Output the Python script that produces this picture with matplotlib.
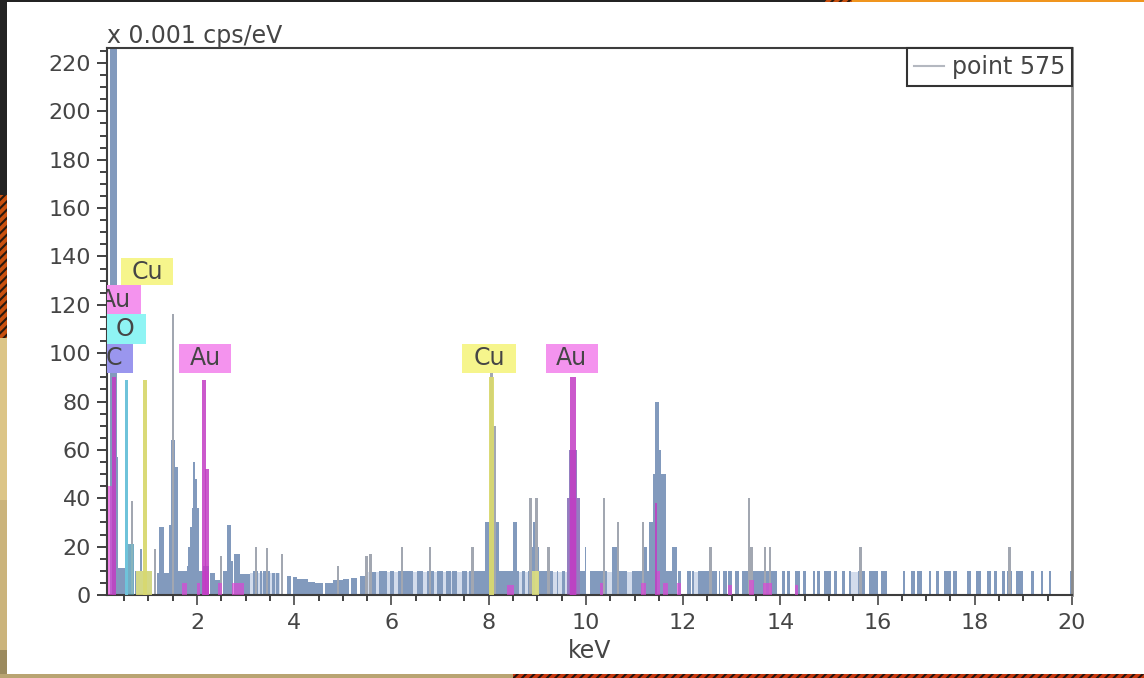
import matplotlib
matplotlib.use('Agg')
import matplotlib.pyplot as plt
from matplotlib.patches import Rectangle
from matplotlib.lines import Line2D
from matplotlib.ticker import MultipleLocator

#counts per keV band (start keV, end keV, value)
peak_start = [0.21, 0.333, 0.381, 0.552, 0.724, 0.827, 0.875, 1.17, 1.218, 1.43, 1.46, 1.54,
              1.616, 1.787, 1.82, 1.856, 1.89, 1.924, 1.958, 1.993, 2.05, 2.116, 2.267, 2.37,
              2.54, 2.61, 2.70, 2.77, 2.885,
              7.93, 8.13, 8.51, 8.87, 8.91, 9.61, 9.66, 9.98, 10.53, 11.17, 11.30, 11.39, 11.42, 11.42, 11.87]
peak_end = [0.354, 0.381, 0.518, 0.71, 0.827, 0.875, 1.067, 1.43, 1.32, 1.616, 1.54, 1.60,
            1.787, 1.82, 1.856, 1.89, 1.924, 1.958, 1.993, 2.05, 2.116, 2.25, 2.37, 2.47,
            2.75, 2.70, 2.75, 2.885, 3.09,
            8.02, 8.21, 8.59, 9.04, 8.98, 9.87, 9.81, 10.0, 10.67, 11.25, 11.39, 11.65, 11.54, 11.51, 11.77]
peak_count = [230, 57, 11, 21, 10, 19, 10, 9, 28, 29, 64, 53,
              10, 12, 20, 28, 36, 55, 48, 36, 10, 12, 9, 6,
              10, 29, 14, 17, 8.5,
              30, 30, 30, 20, 30, 40, 60, 20, 20, 20, 30, 50, 60, 80, 20]

#low continuum from 3 keV to 7.6 keV
cont_start = [3.146, 3.30, 3.35, 3.54, 3.63, 3.845, 3.97, 4.05, 4.29, 4.43, 4.64, 4.805, 5.01,
              5.16, 5.35, 5.56, 5.75, 5.96, 6.14, 6.53, 6.73, 6.945]
cont_end = [3.26, 3.33, 3.50, 3.60, 3.69, 3.93, 4.05, 4.29, 4.43, 4.59, 4.805, 5.01, 5.12,
            5.285, 5.49, 5.68, 5.90, 6.05, 6.45, 6.64, 6.88, 7.05]
cont_count = [10, 10, 10, 9, 9, 8, 7.5, 6.5, 5.5, 5, 5, 6, 6.5,
              7, 8, 9.5, 10, 10, 10, 10, 10, 10]

#faint channels between the solid bands
pale_start = [3.09, 5.49, 7.05, 8.62, 9.33, 10.43, 10.84, 12.23, 15.46]
pale_end = [3.70, 7.60, 7.60, 8.80, 9.61, 10.53, 10.94, 12.30, 15.59]
pale_count = [9, 9.5, 9.5, 9.5, 9.5, 9.5, 9.5, 9.5, 9.5]

#bands sitting at one count level (10)
flat_start = [7.12, 7.25, 7.45, 7.60, 8.68, 8.80, 9.23, 9.40, 9.50, 9.61, 10.09, 10.53, 10.94,
              11.39, 11.90, 12.08, 12.19, 12.30, 12.73, 12.83, 12.93, 13.07, 13.21,
              14.03, 14.13, 14.30, 14.46, 14.67, 14.75, 14.89, 15.11, 15.27, 15.41, 15.59, 15.83,
              16.08, 16.52, 16.69, 16.81, 17.05, 17.21, 17.36, 17.56, 17.85, 18.03, 18.26, 18.39,
              18.56, 18.66, 18.84, 19.15, 19.37, 19.52, 19.96]
flat_end = [7.22, 7.34, 7.55, 8.62, 8.75, 9.19, 9.33, 9.43, 9.57, 9.98, 10.43, 10.84, 11.29,
            11.87, 11.95, 12.16, 12.23, 12.69, 12.76, 12.90, 13.0, 13.14, 13.93,
            14.10, 14.19, 14.41, 14.52, 14.72, 14.82, 15.04, 15.17, 15.33, 15.46, 15.75, 16.0,
            16.19, 16.57, 16.77, 16.91, 17.10, 17.27, 17.51, 17.63, 17.92, 18.13, 18.33, 18.45,
            18.63, 18.76, 19.0, 19.22, 19.41, 19.57, 20.0]
flat_count = 10

#single thin channels
spike_kev = [1.135, 1.51, 0.665, 2.49, 3.21, 3.44, 3.75, 4.90, 5.49, 5.57, 6.22, 6.79,
             7.67, 8.06, 8.12, 8.86, 8.98, 9.23, 10.37, 10.66, 11.18, 12.56, 13.35, 13.41,
             13.68, 13.79, 15.65, 18.71]
spike_count = [19, 116, 39, 16, 20, 19.5, 17, 12, 16, 17, 20, 20,
               20, 92, 70, 40, 40, 20, 40, 30, 30, 20, 40, 20,
               20, 20, 20, 20]

#element lines over the spectrum
au_start = [0.244, 2.10, 2.165, 9.67, 11.42]
au_end = [0.333, 2.18, 2.25, 9.80, 11.47]
au_count = [90, 89, 52, 90, 38]
au_mid_start = [9.61, 9.66]
au_mid_end = [9.87, 9.81]
au_mid_count = [40, 60]
au_low_start = [0.175, 1.69, 1.99, 2.116, 2.44, 2.72, 8.37, 10.29, 11.13, 11.47, 11.58, 11.88,
                12.93, 13.35, 13.65, 14.30]
au_low_end = [0.244, 1.79, 2.06, 2.25, 2.51, 2.96, 8.52, 10.35, 11.24, 11.53, 11.68, 11.95,
              13.0, 13.45, 13.82, 14.37]
au_low_count = [45, 5, 5, 10, 5, 5, 4, 5, 5, 10, 5, 5, 4, 6, 5, 4]
o_start = [0.518]
o_end = [0.587]
o_count = [89]
o_low_start = [0.552]
o_low_end = [0.71]
o_low_count = [21]
cu_start = [0.895, 8.00]
cu_end = [0.964, 8.10]
cu_count = [89, 90]
cu_low_start = [0.744, 8.89]
cu_low_end = [1.067, 9.04]
cu_low_count = [10, 10]

#element tags: text, box left/right keV, box bottom/top value, text keV
tag_text = ['Cu', 'Au', 'O', 'C', 'Au', 'Cu', 'Au']
tag_left = [0.44, 0.148, 0.148, 0.148, 1.63, 7.46, 9.17]
tag_right = [1.51, 0.85, 0.95, 0.68, 2.70, 8.57, 10.24]
tag_low = [128, 116, 104, 92, 92, 92, 92]
tag_high = [139.5, 128, 116, 104, 104, 104, 104]
tag_x = [0.97, 0.32, 0.52, 0.29, 2.17, 8.02, 9.70]

x_ticks = [2, 4, 6, 8, 10, 12, 14, 16, 18, 20]
y_ticks = [0, 20, 40, 60, 80, 100, 120, 140, 160, 180, 200, 220]

BLUE = '#829abd'
TEXT = '#454545'
FONT = 16
FONT_BIG = 17

fig = plt.figure(figsize=(11.44, 6.78), dpi=100, facecolor='white')
plt.rcParams['font.family'] = 'DejaVu Sans'
plt.rcParams['hatch.linewidth'] = 1.5

#page around the screenshot
W, H = 1144.0, 678.0
def page_rect(x0, y0, x1, y1, color, hatch=None, edge=None):
    r = Rectangle((x0/W, 1 - y1/H), (x1 - x0)/W, (y1 - y0)/H, transform=fig.transFigure,
                  facecolor=color, edgecolor=edge if edge else color, hatch=hatch, lw=0)
    fig.add_artist(r)

page_rect(0, 0, 7, 195, '#232323')
page_rect(0, 195, 7, 338, '#c9500f', '////', '#2a1a10')
page_rect(0, 338, 7, 500, '#dcc587')
page_rect(0, 500, 7, 650, '#cbb47c')
page_rect(0, 650, 7, 678, '#9b8a5e')
page_rect(0, 0, 825, 2, '#232323')
page_rect(825, 0, 852, 2, '#c9500f', '////', '#2a1a10')
page_rect(852, 0, 1144, 2, '#f0951e')
page_rect(0, 674, 513, 678, '#b9a472')
page_rect(513, 674, 1144, 678, '#c8380f', '////', '#241510')

ax = fig.add_axes([107/W, 1 - 595/H, 965/W, 547/H])

def bands(start, end, count, color, alpha=1.0, z=2):
    if not hasattr(count, '__len__'):
        count = [count]*len(start)
    width = [e - s for s, e in zip(start, end)]
    ax.bar(start, count, width=width, align='edge', color=color, alpha=alpha, lw=0, zorder=z)

bands(pale_start, pale_end, pale_count, '#d3dcec', z=1)
bands(flat_start, flat_end, flat_count, BLUE)
bands(cont_start, cont_end, cont_count, BLUE)
bands(peak_start, peak_end, peak_count, BLUE)
ax.bar(spike_kev, spike_count, width=0.05, color='#a2a7b1', lw=0, zorder=2)

bands(au_mid_start, au_mid_end, au_mid_count, '#c040c8', 0.3, 3)
bands(au_low_start, au_low_end, au_low_count, '#e23fd8', 0.65, 3)
bands(au_start, au_end, au_count, '#c23cc4', 0.85, 3)
bands(o_low_start, o_low_end, o_low_count, '#60c8d0', 0.4, 3)
bands(o_start, o_end, o_count, '#6fc3da', 1.0, 3)
bands(cu_low_start, cu_low_end, cu_low_count, '#e8e878', 0.8, 3)
bands(cu_start, cu_end, cu_count, '#d8d870', 0.95, 3)

tag_color = {'Cu': '#f6f58c', 'Au': '#f493ee', 'O': '#8ff4f4', 'C': '#9a96ee'}
for i in range(len(tag_text)):
    ax.add_patch(Rectangle((tag_left[i], tag_low[i]), tag_right[i] - tag_left[i], tag_high[i] - tag_low[i],
                           facecolor=tag_color[tag_text[i]], edgecolor='none', zorder=4))
    ax.text(tag_x[i], (tag_low[i] + tag_high[i])/2, tag_text[i], ha='center', va='center',
            fontsize=FONT_BIG, color=TEXT, clip_on=True, zorder=5)

ax.set_xlim(0.148, 20)
ax.set_ylim(0, 226.2)
ax.set_xticks(x_ticks)
ax.set_yticks(y_ticks)
ax.xaxis.set_minor_locator(MultipleLocator(0.5))
ax.yaxis.set_minor_locator(MultipleLocator(5))
ax.tick_params(axis='y', which='major', length=7.5, width=1.3, color='#333333', labelsize=FONT, labelcolor=TEXT, pad=4)
ax.tick_params(axis='y', which='minor', length=5, width=1.3, color='#333333')
ax.tick_params(axis='x', which='major', length=7, width=1.3, color='#555555', labelsize=FONT, labelcolor=TEXT, pad=6)
ax.tick_params(axis='x', which='minor', length=4, width=1.3, color='#333333')
ax.set_xlabel('keV', fontsize=FONT_BIG, color=TEXT, labelpad=4)
ax.text(0, 0.9995, 'x 0.001 cps/eV', transform=ax.transAxes, ha='left', va='bottom', fontsize=FONT_BIG, color=TEXT)

for side in ['left', 'bottom', 'top']:
    ax.spines[side].set_color('#3d3d3d')
    ax.spines[side].set_linewidth(1.5)
ax.spines['right'].set_color('#8a8a8a')
ax.spines['right'].set_linewidth(2)

handle = Line2D([], [], color='#b4b8c0', lw=1.5)
leg = ax.legend([handle], ['point 575'], loc='upper right', borderaxespad=0, fancybox=False, framealpha=1,
                edgecolor='#333333', fontsize=FONT_BIG, labelcolor=TEXT, handlelength=1.3, handletextpad=0.3,
                borderpad=0.3)
leg.get_frame().set_linewidth(1.5)

fig.savefig('out.png', dpi=100)
